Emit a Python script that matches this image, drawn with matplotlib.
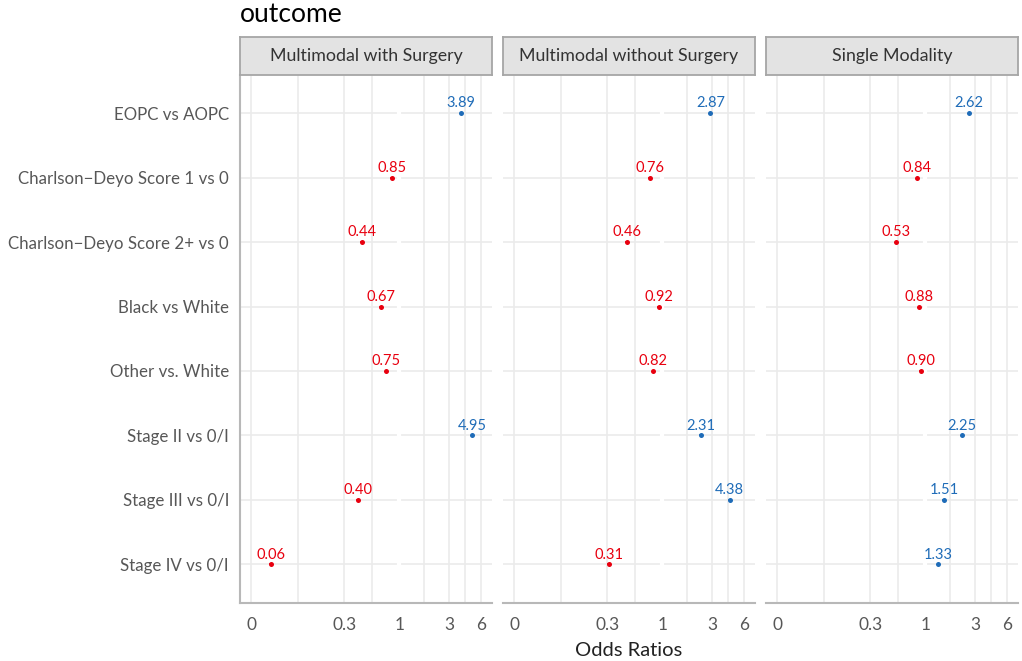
import numpy as np
import matplotlib.pyplot as plt
from matplotlib.ticker import FixedLocator, NullFormatter

plt.rcParams['font.family'] = ['Lato', 'DejaVu Sans']

# data
categories = ["EOPC vs AOPC", "Charlson\u2212Deyo Score 1 vs 0", "Charlson\u2212Deyo Score 2+ vs 0",
              "Black vs White", "Other vs. White", "Stage II vs 0/I",
              "Stage III vs 0/I", "Stage IV vs 0/I"]
panels = ["Multimodal with Surgery", "Multimodal without Surgery", "Single Modality"]
or_surgery = [3.89, 0.85, 0.44, 0.67, 0.75, 4.95, 0.40, 0.06]
or_no_surgery = [2.87, 0.76, 0.46, 0.92, 0.82, 2.31, 4.38, 0.31]
or_single = [2.62, 0.84, 0.53, 0.88, 0.90, 2.25, 1.51, 1.33]
panel_values = [or_surgery, or_no_surgery, or_single]

x_breaks = [0.039, 0.3, 1, 3, 6]
x_labels = ["0", "0.3", "1", "3", "6"]

blue = "#1f6cb8"
red = "#e8000f"
grid_col = "#ebebeb"
axis_col = "#b8b8b8"
text_col = "#575757"

W, H = 1022, 661
fig = plt.figure(figsize=(W / 100, H / 100), dpi=100)

def fx(px):
    return px / W

def fy(py):
    return 1 - py / H

lefts = [240, 503, 766]
pw = 252
top, bottom = 74.5, 603
strip_top = 37

log_b = np.log10(x_breaks)
minors = 10 ** ((log_b[:-1] + log_b[1:]) / 2)

n = len(categories)
ypos = np.arange(n)[::-1] + 1  # first category at top

for i, (left, name, vals) in enumerate(zip(lefts, panels, panel_values)):
    ax = fig.add_axes([fx(left), fy(bottom), fx(pw), (bottom - top) / H])
    ax.set_xscale('log')
    ax.set_xlim(0.0304, 7.63)
    ax.set_ylim(0.4, n + 0.6)
    ax.set_facecolor('white')

    for b in x_breaks:
        ax.axvline(b, color=grid_col, lw=1.2, zorder=0)
    for m in minors:
        ax.axvline(m, color=grid_col, lw=1.2, zorder=0)
    for y in ypos:
        ax.axhline(y, color=grid_col, lw=1.2, zorder=0)
    ax.axvline(1, color='white', lw=3, zorder=1)

    vals = np.array(vals)
    cols = [blue if v > 1 else red for v in vals]
    for v, y, c in zip(vals, ypos, cols):
        ax.plot([v * 0.985, v * 1.015], [y, y], color=c, lw=1.5, zorder=3, solid_capstyle='round')
        ax.plot(v, y, 'o', color=c, ms=3.6, zorder=4, mec='none')
        ax.annotate(f"{v:.2f}", (v, y), xytext=(0, 2), textcoords='offset points',
                    ha='center', va='bottom', fontsize=10.5, color=c, zorder=5)

    ax.xaxis.set_major_locator(FixedLocator(x_breaks))
    ax.xaxis.set_minor_locator(FixedLocator([]))
    ax.xaxis.set_minor_formatter(NullFormatter())
    ax.set_xticklabels(x_labels)
    ax.tick_params(axis='x', length=0, pad=10, labelsize=12.5, labelcolor=text_col)
    ax.set_yticks(ypos)
    if i == 0:
        ax.set_yticklabels(categories)
        ax.tick_params(axis='y', length=0, pad=8, labelsize=12.2, labelcolor=text_col)
    else:
        ax.set_yticklabels([])
        ax.tick_params(axis='y', length=0)

    for s in ['top', 'right']:
        ax.spines[s].set_visible(False)
    ax.spines['bottom'].set_color(axis_col)
    ax.spines['bottom'].set_linewidth(1.5)
    if i == 0:
        ax.spines['left'].set_color(axis_col)
        ax.spines['left'].set_linewidth(1.5)
    else:
        ax.spines['left'].set_visible(False)

    # facet strip
    sax = fig.add_axes([fx(left), fy(top), fx(pw), (top - strip_top) / H])
    sax.set_facecolor('#e3e3e3')
    sax.set_xticks([])
    sax.set_yticks([])
    for s in sax.spines.values():
        s.set_color('#a6a6a6')
        s.set_linewidth(1.3)
    sax.text(0.5, 0.5, name, ha='center', va='center', fontsize=12.8,
             color='#333333', transform=sax.transAxes)

fig.text(fx(240), fy(22), "outcome", fontsize=19, color='black', ha='left', va='baseline')
fig.text(fx(629), fy(651), "Odds Ratios", fontsize=14.5, color='#222222', ha='center', va='center')

fig.savefig("out.png", dpi=100)
